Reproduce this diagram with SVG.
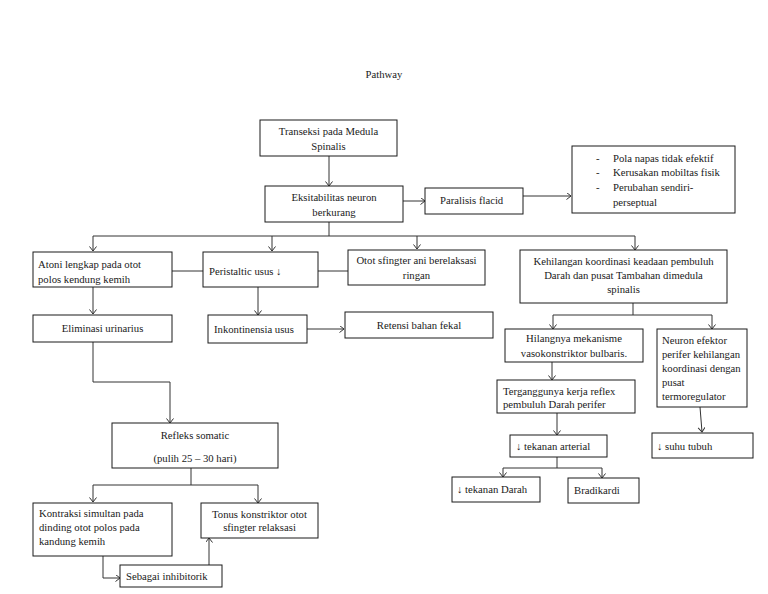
<svg xmlns="http://www.w3.org/2000/svg" width="768" height="594" viewBox="0 0 768 594">
<style>
rect.b{fill:#fff;stroke:#1a1a1a;stroke-width:1}
text{font-family:"Liberation Serif","Times New Roman","DejaVu Serif",serif;font-size:10.7px;fill:#1a1a1a}
.c{text-anchor:middle}
#connectors path{fill:none;stroke:#333;stroke-width:1}
</style>
<defs>
<marker id="ah" markerUnits="userSpaceOnUse" markerWidth="8" markerHeight="8" refX="5" refY="3.5" orient="auto">
<path d="M0.5,0 L5,3.5 L0.5,7" fill="none" stroke="#333" stroke-width="1"/>
</marker>
</defs>
<rect width="768" height="594" fill="#fff"/>
<text x="384" y="78" class="c">Pathway</text>

<g id="connectors">
<path d="M329,156 V186" marker-end="url(#ah)"/>
<path d="M403,201 H425" marker-end="url(#ah)"/>
<path d="M523,196 H571" marker-end="url(#ah)"/>
<path d="M329,222 V236"/>
<path d="M93,236 H635"/>
<path d="M93,236 V251" marker-end="url(#ah)"/>
<path d="M272,236 V251" marker-end="url(#ah)"/>
<path d="M417,236 V249" marker-end="url(#ah)"/>
<path d="M635,236 V250" marker-end="url(#ah)"/>
<path d="M172,271 H203"/>
<path d="M318,271 H348"/>
<path d="M93,287 V314" marker-end="url(#ah)"/>
<path d="M258,287 V315" marker-end="url(#ah)"/>
<path d="M307,329 H344" marker-end="url(#ah)"/>
<path d="M93,342 V382 H170 V423" marker-end="url(#ah)"/>
<path d="M191,468 V485"/>
<path d="M93,485 H258"/>
<path d="M93,485 V502" marker-end="url(#ah)"/>
<path d="M258,485 V503" marker-end="url(#ah)"/>
<path d="M103,556 V578 H120" marker-end="url(#ah)"/>
<path d="M209,565 V538" marker-end="url(#ah)"/>
<path d="M633,303 V315"/>
<path d="M553,315 H712"/>
<path d="M553,315 V329" marker-end="url(#ah)"/>
<path d="M712,315 V329" marker-end="url(#ah)"/>
<path d="M552,362 V380" marker-end="url(#ah)"/>
<path d="M557,413 V435" marker-end="url(#ah)"/>
<path d="M557,457 V468"/>
<path d="M503,468 H602"/>
<path d="M503,468 V477" marker-end="url(#ah)"/>
<path d="M602,468 V478" marker-end="url(#ah)"/>
<path d="M700,407 L702,432" marker-end="url(#ah)"/>
</g>

<g id="transeksi">
<rect class="b" x="260" y="120" width="137" height="36"/>
<text x="328.5" y="135" class="c">Transeksi pada Medula</text>
<text x="328.5" y="150" class="c">Spinalis</text>
</g>
<g id="eksitabilitas">
<rect class="b" x="265" y="186" width="138" height="36"/>
<text x="334" y="201" class="c">Eksitabilitas neuron</text>
<text x="334" y="216" class="c">berkurang</text>
</g>
<g id="paralisis">
<rect class="b" x="425" y="188" width="98" height="26"/>
<text x="440" y="204">Paralisis flacid</text>
</g>
<g id="diagnosa">
<rect class="b" x="572" y="146" width="163" height="67"/>
<text x="596" y="161.5">-</text>
<text x="613" y="161.5">Pola napas tidak efektif</text>
<text x="596" y="176">-</text>
<text x="613" y="176">Kerusakan mobiltas fisik</text>
<text x="596" y="190.5">-</text>
<text x="613" y="190.5">Perubahan sendiri-</text>
<text x="613" y="205.5">perseptual</text>
</g>
<g id="atoni">
<rect class="b" x="33" y="252" width="139" height="35"/>
<text x="38" y="268">Atoni lengkap pada otot</text>
<text x="38" y="283">polos kendung kemih</text>
</g>
<g id="peristaltic">
<rect class="b" x="203" y="252" width="115" height="35"/>
<text x="209" y="275">Peristaltic usus ↓</text>
</g>
<g id="otot">
<rect class="b" x="348" y="250" width="137" height="35"/>
<text x="416.5" y="264" class="c">Otot sfingter ani berelaksasi</text>
<text x="416.5" y="279" class="c">ringan</text>
</g>
<g id="eliminasi">
<rect class="b" x="33" y="315" width="139" height="27"/>
<text x="102.5" y="332" class="c">Eliminasi urinarius</text>
</g>
<g id="inkontinensia">
<rect class="b" x="208" y="315" width="99" height="28"/>
<text x="214" y="332.5">Inkontinensia usus</text>
</g>
<g id="retensi">
<rect class="b" x="345" y="312" width="148" height="26"/>
<text x="419" y="328.5" class="c">Retensi bahan fekal</text>
</g>
<g id="refleks">
<rect class="b" x="112" y="423" width="166" height="45"/>
<text x="195" y="438.5" class="c">Refleks somatic</text>
<text x="195" y="461.5" class="c">(pulih 25 – 30 hari)</text>
</g>
<g id="kontraksi">
<rect class="b" x="33" y="503" width="139" height="53"/>
<text x="39" y="516.5">Kontraksi simultan pada</text>
<text x="39" y="530.5">dinding otot polos pada</text>
<text x="39" y="545">kandung kemih</text>
</g>
<g id="tonus">
<rect class="b" x="201" y="503" width="117" height="35"/>
<text x="259.5" y="517.5" class="c">Tonus konstriktor otot</text>
<text x="259.5" y="530.5" class="c">sfingter relaksasi</text>
</g>
<g id="sebagai">
<rect class="b" x="120" y="565" width="102" height="22"/>
<text x="126" y="580">Sebagai inhibitorik</text>
</g>
<g id="kehilangan">
<rect class="b" x="520" y="250" width="207" height="53"/>
<text x="623.5" y="265" class="c">Kehilangan koordinasi keadaan pembuluh</text>
<text x="623.5" y="278.5" class="c">Darah dan pusat Tambahan dimedula</text>
<text x="623.5" y="292.5" class="c">spinalis</text>
</g>
<g id="hilangnya">
<rect class="b" x="505" y="329" width="138" height="33"/>
<text x="574" y="342" class="c">Hilangnya mekanisme</text>
<text x="574" y="357" class="c">vasokonstriktor bulbaris.</text>
</g>
<g id="neuron">
<rect class="b" x="657" y="329" width="90" height="78"/>
<text x="662" y="343.5">Neuron efektor</text>
<text x="662" y="357.5">perifer kehilangan</text>
<text x="662" y="372">koordinasi dengan</text>
<text x="662" y="386">pusat</text>
<text x="662" y="400">termoregulator</text>
</g>
<g id="terganggunya">
<rect class="b" x="497" y="380" width="138" height="33"/>
<text x="503" y="394.5">Terganggunya kerja reflex</text>
<text x="503" y="407.5">pembuluh Darah perifer</text>
</g>
<g id="arterial">
<rect class="b" x="510" y="435" width="97" height="22"/>
<text x="516" y="449.5">↓ tekanan arterial</text>
</g>
<g id="suhu">
<rect class="b" x="652" y="433" width="101" height="25"/>
<text x="657" y="449.5">↓ suhu tubuh</text>
</g>
<g id="darah">
<rect class="b" x="452" y="477" width="88" height="25"/>
<text x="457" y="492.5">↓ tekanan Darah</text>
</g>
<g id="bradikardi">
<rect class="b" x="568" y="478" width="71" height="25"/>
<text x="574" y="494">Bradikardi</text>
</g>
</svg>
